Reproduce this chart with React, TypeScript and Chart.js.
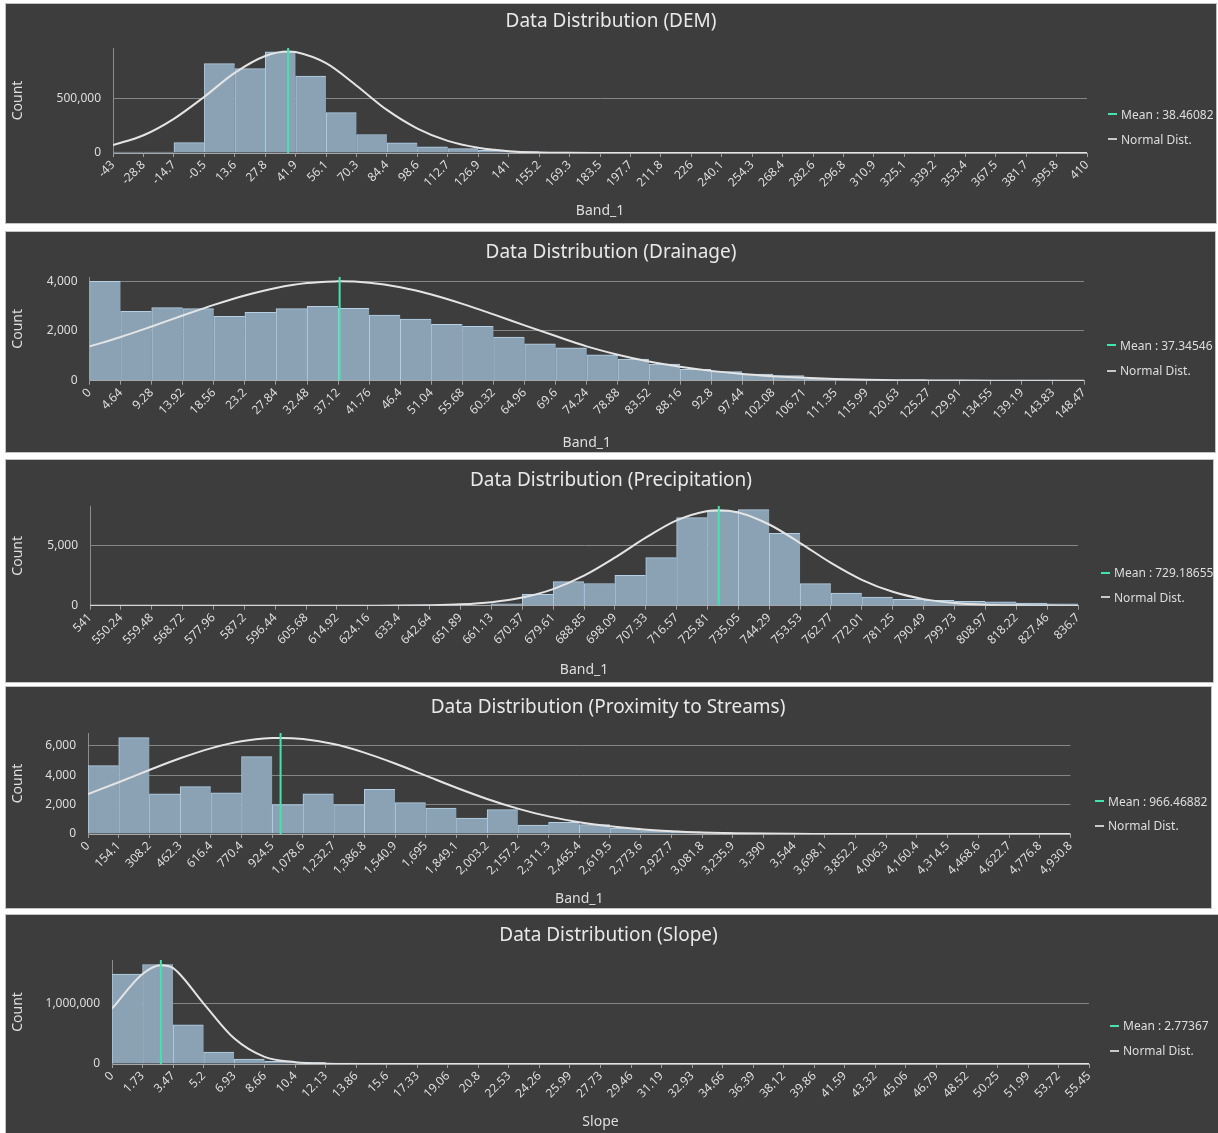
import React, { useEffect, useRef } from 'react';
import { Chart, registerables } from 'chart.js';

Chart.register(...registerables);

// ---------------- DATA ----------------
const demTicks = ["-43","-28.8","-14.7","-0.5","13.6","27.8","41.9","56.1","70.3","84.4","98.6","112.7","126.9","141","155.2","169.3","183.5","197.7","211.8","226","240.1","254.3","268.4","282.6","296.8","310.9","325.1","339.2","353.4","367.5","381.7","395.8","410"];
const demCounts = [9000, 9000, 96000, 826000, 780000, 935000, 711000, 373000, 171000, 93000, 56000, 40000, 25000, 14000, 8000, 5000, 3000, 2000, 1500, 1000, 800, 600, 500, 400, 300, 200, 150, 100, 80, 50, 30, 20];
const demCurve = [73000, 164000, 316000, 520000, 740000, 896000, 933000, 830000, 622000, 398000, 226000, 112000, 48000, 17000, 5000, 1300, 300, 0, 0, 0, 0, 0, 0, 0, 0, 0, 0, 0, 0, 0, 0, 0, 0];
const demMean = 38.46082;
const demPeak = 938000;
const demYMax = 970000;
const demYTicks = [0, 500000];

const drainTicks = ["0","4.64","9.28","13.92","18.56","23.2","27.84","32.48","37.12","41.76","46.4","51.04","55.68","60.32","64.96","69.6","74.24","78.88","83.52","88.16","92.8","97.44","102.08","106.71","111.35","115.99","120.63","125.27","129.91","134.55","139.19","143.83","148.47"];
const drainCounts = [4000, 2790, 2936, 2896, 2586, 2747, 2896, 2990, 2909, 2640, 2478, 2263, 2182, 1751, 1481, 1325, 1040, 872, 671, 456, 362, 268, 201, 54, 27, 12, 6, 3, 2, 1, 1, 0];
const drainCurve = [1374, 1756, 2182, 2622, 3049, 3429, 3731, 3928, 3999, 3941, 3756, 3464, 3089, 2665, 2226, 1797, 1380, 1045, 770, 560, 395, 270, 180, 115, 70, 40, 22, 12, 6, 3, 1, 0, 0];
const drainMean = 37.34546;
const drainPeak = 4000;
const drainYMax = 4170;
const drainYTicks = [0, 2000, 4000];

const precipTicks = ["541","550.24","559.48","568.72","577.96","587.2","596.44","605.68","614.92","624.16","633.4","642.64","651.89","661.13","670.37","679.61","688.85","698.09","707.33","716.57","725.81","735.05","744.29","753.53","762.77","772.01","781.25","790.49","799.73","808.97","818.22","827.46","836.7"];
const precipCounts = [0, 0, 0, 0, 0, 0, 0, 0, 0, 0, 5, 15, 40, 160, 950, 2010, 1860, 2540, 4020, 7370, 7930, 8040, 6060, 1850, 1060, 730, 530, 445, 375, 320, 220, 155];
const precipCurve = [0, 0, 0, 0, 0, 0, 0, 0, 1, 4, 12, 39, 114, 295, 682, 1391, 2511, 4018, 5693, 7145, 7935, 7807, 6800, 5248, 3584, 2168, 1162, 551, 231, 86, 28, 8, 2];
const precipMean = 729.18655;
const precipPeak = 8000;
const precipYMax = 8350;
const precipYTicks = [0, 5000];

const proxTicks = ["0","154.1","308.2","462.3","616.4","770.4","924.5","1,078.6","1,232.7","1,386.8","1,540.9","1,695","1,849.1","2,003.2","2,157.2","2,311.3","2,465.4","2,619.5","2,773.6","2,927.7","3,081.8","3,235.9","3,390","3,544","3,698.1","3,852.2","4,006.3","4,160.4","4,314.5","4,468.6","4,622.7","4,776.8","4,930.8"];
const proxCounts = [4660, 6570, 2730, 3230, 2800, 5270, 2000, 2730, 2000, 3050, 2140, 1770, 1090, 1660, 610, 790, 635, 400, 235, 140, 95, 70, 40, 20, 10, 5, 3, 2, 1, 1, 0, 0];
const proxCurve = [2725, 3523, 4358, 5156, 5834, 6313, 6534, 6468, 6124, 5544, 4803, 3978, 3152, 2388, 1731, 1199, 800, 520, 320, 190, 105, 55, 27, 12, 6, 2, 1, 0, 0, 0, 0, 0, 0];
const proxMean = 966.46882;
const proxPeak = 6545;
const proxYMax = 6880;
const proxYTicks = [0, 2000, 4000, 6000];

const slopeTicks = ["0","1.73","3.47","5.2","6.93","8.66","10.4","12.13","13.86","15.6","17.33","19.06","20.8","22.53","24.26","25.99","27.73","29.46","31.19","32.93","34.66","36.39","38.12","39.86","41.59","43.32","45.06","46.79","48.52","50.25","51.99","53.72","55.45"];
const slopeCounts = [1486000, 1646000, 646000, 199000, 83000, 44000, 28000, 17000, 10000, 6000, 4000, 2500, 1500, 1000, 700, 500, 300, 200, 150, 100, 80, 60, 40, 30, 20, 15, 10, 8, 5, 3, 2, 1];
const slopeCurve = [917000, 1490000, 1585000, 1000000, 425000, 118000, 30000, 5000, 500, 0, 0, 0, 0, 0, 0, 0, 0, 0, 0, 0, 0, 0, 0, 0, 0, 0, 0, 0, 0, 0, 0, 0, 0];
const slopeMean = 2.77367;
const slopePeak = 1635000;
const slopeYMax = 1720000;
const slopeYTicks = [0, 1000000];

// ---------------- STYLE ----------------
const FONT = '"Noto Sans", "Open Sans", sans-serif';
const BG = '#3d3d3d';
const TEXT = '#dedede';
const BAR = '#8ba2b5';
const BAR_EDGE = '#b3d0e6';
const CURVE = '#e4e4e4';
const MEAN = '#44e3ad';
const GRID = '#858585';

const panels = [
  { title: 'Data Distribution (DEM)', xTitle: 'Band_1', ticks: demTicks, counts: demCounts, curve: demCurve, mean: demMean, peak: demPeak, yMax: demYMax, yTicks: demYTicks,
    box: { left: 6, top: 4, width: 1210, height: 219 }, yAxisW: 107, padTop: 44, padRight: 129, xAxisH: 70, xTitlePad: 4, titleCx: 605, titleCy: 15.3, legendX: 1102, legendY: [110, 135] },
  { title: 'Data Distribution (Drainage)', xTitle: 'Band_1', ticks: drainTicks, counts: drainCounts, curve: drainCurve, mean: drainMean, peak: drainPeak, yMax: drainYMax, yTicks: drainYTicks,
    box: { left: 6, top: 232, width: 1209, height: 220 }, yAxisW: 83.5, padTop: 45, padRight: 131, xAxisH: 71.3, xTitlePad: 1, titleCx: 605, titleCy: 17.7, legendX: 1101, legendY: [113.3, 138.7] },
  { title: 'Data Distribution (Precipitation)', xTitle: 'Band_1', ticks: precipTicks, counts: precipCounts, curve: precipCurve, mean: precipMean, peak: precipPeak, yMax: precipYMax, yTicks: precipYTicks,
    box: { left: 6, top: 460, width: 1207, height: 222 }, yAxisW: 84, padTop: 46, padRight: 135, xAxisH: 76.3, xTitlePad: 4, titleCx: 605, titleCy: 17.7, legendX: 1095, legendY: [112.7, 137.3] },
  { title: 'Data Distribution (Proximity to Streams)', xTitle: 'Band_1', ticks: proxTicks, counts: proxCounts, curve: proxCurve, mean: proxMean, peak: proxPeak, yMax: proxYMax, yTicks: proxYTicks,
    box: { left: 6, top: 687, width: 1205, height: 221 }, yAxisW: 82, padTop: 46, padRight: 140.5, xAxisH: 74, xTitlePad: 1, titleCx: 602, titleCy: 17.7, legendX: 1089, legendY: [114.3, 138.7] },
  { title: 'Data Distribution (Slope)', xTitle: 'Slope', ticks: slopeTicks, counts: slopeCounts, curve: slopeCurve, mean: slopeMean, peak: slopePeak, yMax: slopeYMax, yTicks: slopeYTicks,
    box: { left: 6, top: 915, width: 1212, height: 218 }, yAxisW: 106, padTop: 45, padRight: 129, xAxisH: 69, xTitlePad: 3, titleCx: 602.5, titleCy: 17.7, legendX: 1104, legendY: [110.7, 135.7] },
];

const toNum = (s: string) => parseFloat(s.replace(/,/g, ''));

function buildConfig(p: any): any {
  const edges: number[] = p.ticks.map(toNum);
  const bars = p.counts.map((c: number, i: number) => ({ x: (edges[i] + edges[i + 1]) / 2, y: c }));
  const curvePts = edges.map((x, i) => ({ x, y: p.curve[i] }));
  curvePts.push({ x: p.mean, y: p.peak });
  curvePts.sort((a, b) => a.x - b.x);
  const meanPts = [{ x: p.mean, y: 0 }, { x: p.mean, y: p.yMax }];
  return {
    type: 'bar',
    data: {
      datasets: [
        { type: 'line', label: 'Mean', data: meanPts, borderColor: MEAN, borderWidth: 2, pointRadius: 0, order: 1 },
        { type: 'line', label: 'Normal Dist.', data: curvePts, borderColor: CURVE, borderWidth: 2, pointRadius: 0, cubicInterpolationMode: 'monotone', order: 2 },
        { type: 'bar', label: 'Count', data: bars, backgroundColor: BAR, borderColor: BAR_EDGE, borderWidth: { left: 1, top: 1, right: 0, bottom: 0 }, borderSkipped: false, barPercentage: 1, categoryPercentage: 1, order: 3 },
      ],
    },
    options: {
      responsive: false,
      animation: false,
      devicePixelRatio: 1,
      layout: { padding: { left: 0, top: p.padTop, right: p.padRight, bottom: 0 } },
      plugins: { legend: { display: false }, title: { display: false }, tooltip: { enabled: false } },
      scales: {
        x: {
          type: 'linear', min: edges[0], max: edges[edges.length - 1], offset: false,
          afterBuildTicks: (s: any) => { s.ticks = edges.map((v) => ({ value: v })); },
          afterFit: (s: any) => { s.height = p.xAxisH; s.paddingLeft = 0; s.paddingRight = 0; },
          ticks: { autoSkip: false, maxRotation: 45, minRotation: 45, color: TEXT, padding: 1, font: { family: FONT, size: 12 }, callback: (_v: any, i: number) => p.ticks[i] },
          grid: { display: true, offset: false, drawOnChartArea: false, drawTicks: true, tickLength: 4, color: '#9c9c9c' },
          border: { display: true, color: '#a8a8a8', width: 1 },
          title: { display: true, text: p.xTitle, color: TEXT, font: { family: FONT, size: 14 }, padding: { top: 0, bottom: p.xTitlePad } },
        },
        y: {
          type: 'linear', min: 0, max: p.yMax,
          afterBuildTicks: (s: any) => { s.ticks = p.yTicks.map((v: number) => ({ value: v })); },
          afterFit: (s: any) => { s.width = p.yAxisW; s.paddingTop = 0; s.paddingBottom = 0; },
          ticks: { autoSkip: false, color: TEXT, padding: 12, font: { family: FONT, size: 12 }, callback: (v: any) => Number(v).toLocaleString('en-US') },
          grid: { color: GRID, lineWidth: 1, drawTicks: false },
          border: { display: true, color: '#8c8c8c', width: 1 },
          title: { display: true, text: 'Count', color: TEXT, font: { family: FONT, size: 14 }, padding: { top: 3.6, bottom: 0 } },
        },
      },
    },
  };
}

function Panel({ p }: { p: any }) {
  const ref = useRef<HTMLCanvasElement | null>(null);
  useEffect(() => {
    const chart = new Chart(ref.current as HTMLCanvasElement, buildConfig(p));
    return () => chart.destroy();
  }, []);
  const { left, top, width, height } = p.box;
  const legendRow = (y: number, color: string, text: string) => (
    <div style={{ position: 'absolute', left: p.legendX, top: y - 9, height: 18, display: 'flex', alignItems: 'center', whiteSpace: 'nowrap', font: `12px ${FONT}`, color: TEXT }}>
      <span style={{ display: 'inline-block', width: 9, height: 2, background: color, marginRight: 4 }} />
      {text}
    </div>
  );
  return (
    <div style={{ position: 'absolute', left, top, width, height, background: BG, boxShadow: '0 0 0 1px #c4c4c4' }}>
      <canvas ref={ref} width={width} height={height} style={{ position: 'absolute', left: 0, top: 0, width, height }} />
      <div style={{ position: 'absolute', left: p.titleCx - 400, width: 800, top: p.titleCy - 12, height: 24, lineHeight: '24px', textAlign: 'center', font: `19px ${FONT}`, color: '#e8e8e8', whiteSpace: 'nowrap' }}>
        {p.title}
      </div>
      {legendRow(p.legendY[0], MEAN, `Mean : ${p.mean}`)}
      {legendRow(p.legendY[1], '#c8c8c8', 'Normal Dist.')}
    </div>
  );
}

export default function App() {
  return (
    <div style={{ position: 'absolute', left: 0, top: 0, width: 1218, height: 1133, background: '#ffffff', overflow: 'hidden' }}>
      {panels.map((p, i) => <Panel key={i} p={p} />)}
    </div>
  );
}
